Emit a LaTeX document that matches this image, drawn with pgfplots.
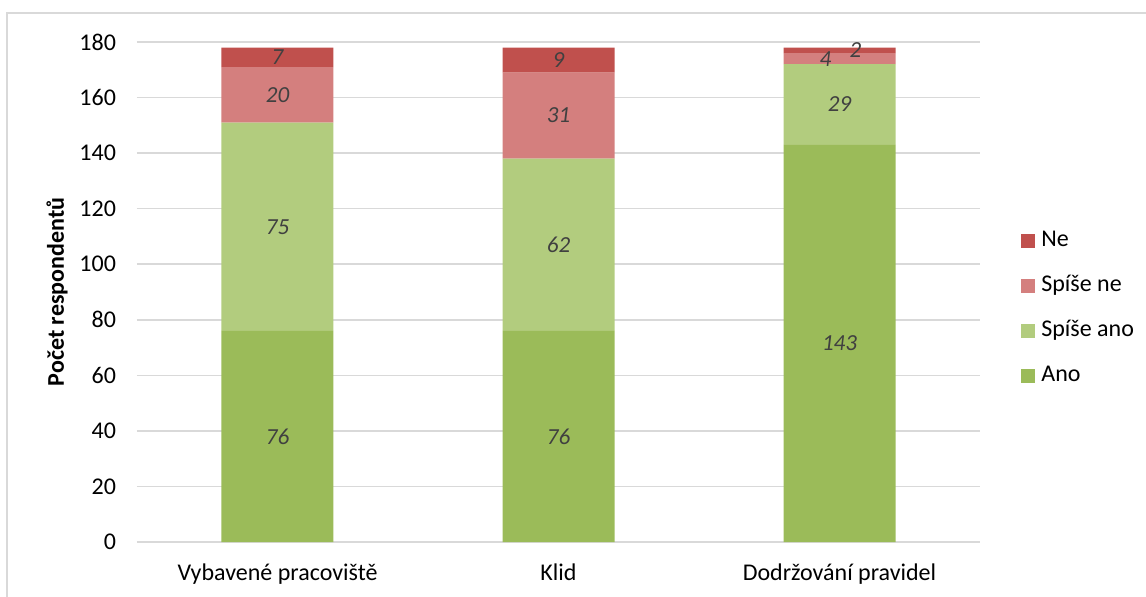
\documentclass[border=0pt]{standalone}
\usepackage{fontspec}
\setmainfont{Carlito}
\usepackage{pgfplots}
\usepackage{pgfplotstable}
\pgfplotsset{compat=1.18}
\definecolor{cNe}{HTML}{C0504D}
\definecolor{cSne}{HTML}{D47F7E}
\definecolor{cSano}{HTML}{B2CC7E}
\definecolor{cAno}{HTML}{9BBB59}
\definecolor{gridc}{HTML}{D9D9D9}
\definecolor{lbl}{HTML}{404040}

\pgfplotstableread{
x ano sano sne ne dxano dxsano dxsne dxne
0 76 75 20 7 0 0 0 0
1 76 62 31 9 0 0 0 0
2 143 29 4 2 0 0 -7 8
}\data

\pgfplotsset{seg/.style={
  visualization depends on={\thisrow{dx#1} \as \dxv}}}

\begin{document}
\begin{tikzpicture}
\useasboundingbox (-68.5pt,-27pt) rectangle (504.5pt,271pt);
\draw[gridc, line width=0.75pt] (-65pt,-40pt) -- (-65pt,264.5pt) -- (520pt,264.5pt);
\begin{axis}[
  at={(0,0)}, anchor=south west, scale only axis,
  width=421.5pt, height=250pt,
  ybar stacked, bar width=56pt,
  xmin=-0.5, xmax=2.5, ymin=0, ymax=180,
  xtick=data, xticklabels={Vybavené pracoviště, Klid, Dodržování pravidel},
  ytick={0,20,...,180},
  ymajorgrids, grid style={gridc, line width=0.75pt},
  axis line style={draw=none},
  major tick length=0pt,
  tick label style={font=\fontsize{12}{14}\selectfont, text=black},
  /pgf/number format/assume math mode=true,
  yticklabel style={anchor=east, xshift=-7pt},
  xticklabel style={anchor=base, yshift=-19pt},
  ylabel={Počet respondentů},
  ylabel style={font=\bfseries\fontsize{12}{14}\selectfont, at={(axis description cs:-0.0949,0.5)}, anchor=center},
  legend style={draw=none, fill=none, at={(1.0486,0.468)}, anchor=west,
    font=\fontsize{12}{14}\selectfont, inner sep=0pt, row sep=12.5pt,
    nodes={inner sep=0pt, text height=8pt, text depth=2pt},
    cells={anchor=west}},
  legend image code/.code={\fill[#1] (0pt,-3.5pt) rectangle (7pt,3.5pt); \path (10pt,0pt);},
  reverse legend,
  nodes near coords,
  every node near coord/.append style={font=\itshape\fontsize{11.5}{13}\selectfont, text=lbl,
    anchor=center, xshift=\dxv pt},
]
\addplot[fill=cAno, draw=none, seg=ano] table[x=x, y=ano]{\data};
\addlegendentry{Ano}
\addplot[fill=cSano, draw=none, seg=sano] table[x=x, y=sano]{\data};
\addlegendentry{Spíše ano}
\addplot[fill=cSne, draw=none, seg=sne] table[x=x, y=sne]{\data};
\addlegendentry{Spíše ne}
\addplot[fill=cNe, draw=none, seg=ne] table[x=x, y=ne]{\data};
\addlegendentry{Ne}
\end{axis}
\end{tikzpicture}
\end{document}
